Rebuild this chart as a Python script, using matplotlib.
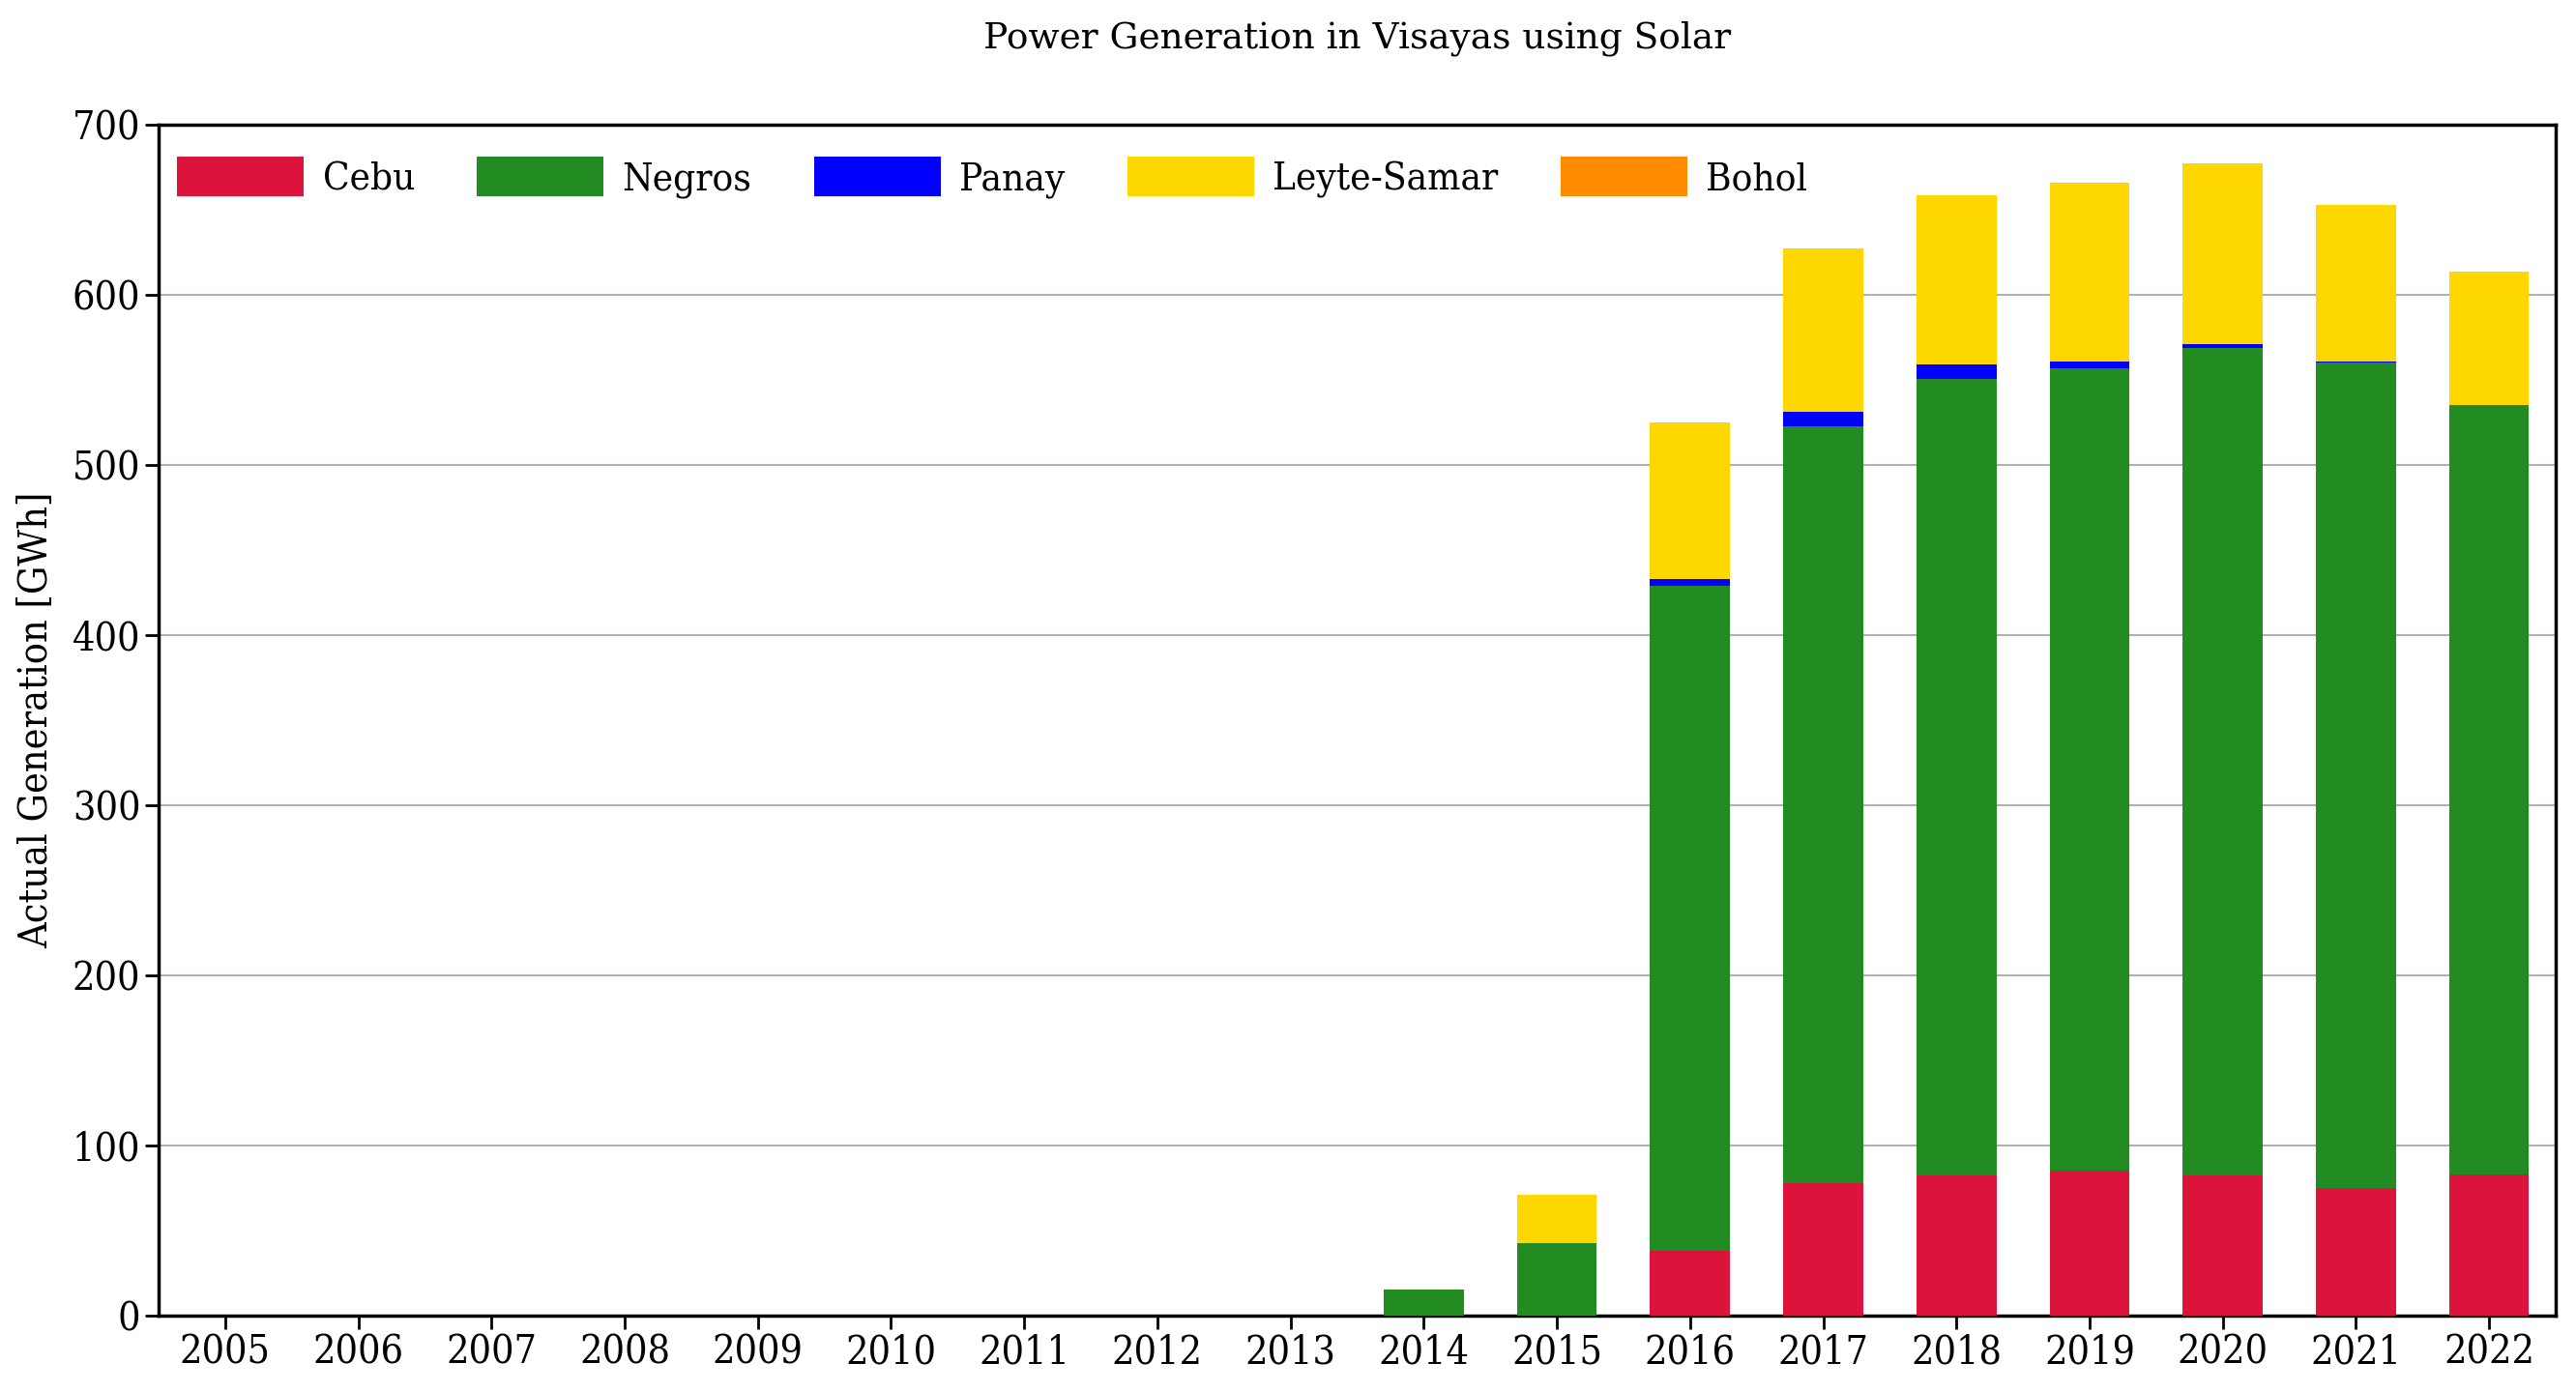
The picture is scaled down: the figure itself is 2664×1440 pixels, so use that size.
import matplotlib
matplotlib.use("Agg")
import matplotlib.pyplot as plt
import numpy as np

years = [str(y) for y in range(2005, 2023)]
cebu =        [0, 0, 0, 0, 0, 0, 0, 0, 0, 0, 0, 38, 78, 82.5, 85, 82.5, 75, 83]
negros =      [0, 0, 0, 0, 0, 0, 0, 0, 0, 15.2, 42.5, 391, 445, 468, 472, 486, 485, 452.5]
panay =       [0, 0, 0, 0, 0, 0, 0, 0, 0, 0, 0, 4, 8, 8.6, 4, 2.8, 0.8, 0]
leyte_samar = [0, 0, 0, 0, 0, 0, 0, 0, 0, 0, 28.4, 92, 96.5, 99.4, 105, 105.7, 92, 78.3]
bohol =       [0, 0, 0, 0, 0, 0, 0, 0, 0, 0, 0, 0, 0, 0, 0, 0, 0, 0]

series = [("Cebu", cebu, "#DC143C"),
          ("Negros", negros, "#228B22"),
          ("Panay", panay, "#0000FF"),
          ("Leyte-Samar", leyte_samar, "#FFD700"),
          ("Bohol", bohol, "#FF8C00")]

plt.rcParams['font.family'] = ['DejaVu Serif']
plt.rcParams['font.stretch'] = 'condensed'
fig = plt.figure(figsize=(26.64, 14.4), dpi=100)
ax = fig.add_axes([164/2664, 1-1361/1440, (2643-164)/2664, (1361-129)/1440])

x = np.arange(len(years))
bottom = np.zeros(len(years))
for name, vals, col in series:
    v = np.array(vals, dtype=float)
    ax.bar(x, v, width=0.6, bottom=bottom, color=col, label=name, zorder=3)
    bottom += v

ax.set_xlim(-0.5, len(years) - 0.5)
ax.set_ylim(0, 700)
ax.set_xticks(x)
ax.set_xticklabels(years)
ax.set_yticks(np.arange(0, 701, 100))
ax.tick_params(axis='both', labelsize=29.5, length=10, width=2)
ax.yaxis.grid(True, color='#b0b0b0', linewidth=1.5, zorder=0)
ax.set_axisbelow(True)
for s in ax.spines.values():
    s.set_linewidth(2.5)

ax.set_ylabel("Actual Generation [GWh]", fontsize=29.5, labelpad=12)
ax.set_title("Power Generation in Visayas using Solar", fontsize=27, pad=57,
             fontstretch='normal')

leg = ax.legend(loc='upper left', ncol=5, frameon=False, fontsize=29,
                handlelength=3.25, handleheight=1.2, handletextpad=0.48,
                columnspacing=1.6, bbox_to_anchor=(-0.006, 1.001), borderaxespad=0.45)

fig.savefig("out.png", dpi=100)
